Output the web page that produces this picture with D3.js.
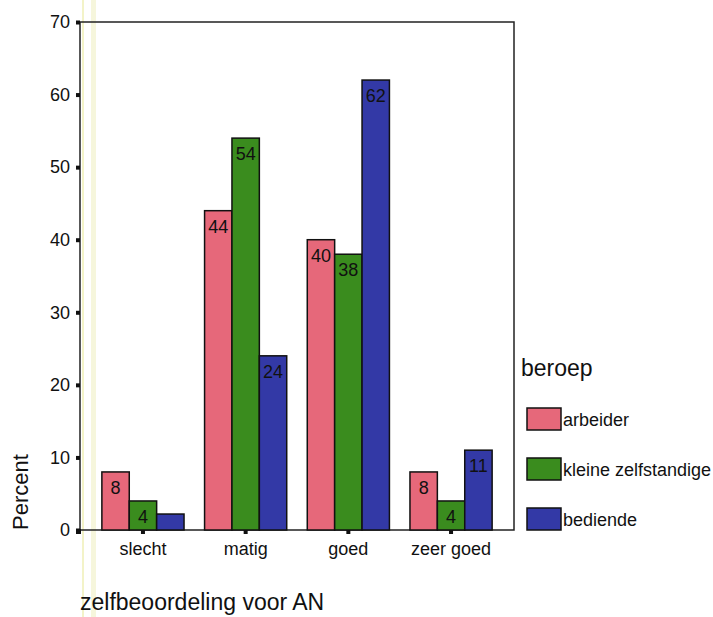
<!DOCTYPE html>
<html><head><meta charset="utf-8">
<script src="https://cdn.jsdelivr.net/npm/d3@7"></script>
<style>body{margin:0;background:#fff}svg{display:block}text{font-family:Arial,"Liberation Sans",sans-serif;fill:#111}</style>
</head><body><svg id="c" width="713" height="617"></svg>
<script>
const categories = ["slecht", "matig", "goed", "zeer goed"];
const seriesNames = ["arbeider", "kleine zelfstandige", "bediende"];
const arbeider = [8, 44, 40, 8];
const kleineZelfstandige = [4, 54, 38, 4];
const bediende = [2.2, 24, 62, 11];
const yTicks = [0, 10, 20, 30, 40, 50, 60, 70];
const colors = ["#e6687a", "#3a8c1e", "#3339a6"];
const seriesValues = [arbeider, kleineZelfstandige, bediende];

const svg = d3.select("#c");
const L = 80, R = 514, T = 22, B = 530;

// faint scan artifact lines
svg.append("rect").attr("x", 82).attr("y", 0).attr("width", 2).attr("height", 617).attr("fill", "#f3f3c8");
svg.append("rect").attr("x", 91).attr("y", 0).attr("width", 5).attr("height", 617).attr("fill", "#f6f6dc");

const x = d3.scaleBand().domain(categories).range([L, R]).paddingInner(0.2).paddingOuter(0.213);
const xs = d3.scaleBand().domain(seriesNames).range([0, x.bandwidth()]);
const y = d3.scaleLinear().domain([0, 70]).range([B, T]);

// frame
svg.append("rect").attr("x", L).attr("y", T).attr("width", R - L).attr("height", B - T)
  .attr("fill", "none").attr("stroke", "#222").attr("stroke-width", 1.5);

const data = [];
categories.forEach((c, i) => seriesNames.forEach((s, j) => data.push({c, s, j, v: seriesValues[j][i]})));

const g = svg.append("g");
g.selectAll("rect.bar").data(data).join("rect").attr("class", "bar")
  .attr("x", d => x(d.c) + xs(d.s)).attr("y", d => y(d.v))
  .attr("width", xs.bandwidth()).attr("height", d => y(0) - y(d.v))
  .attr("fill", d => colors[d.j]).attr("stroke", "#111").attr("stroke-width", 1.5);

g.selectAll("text.lbl").data(data.filter(d => d.v >= 3)).join("text").attr("class", "lbl")
  .attr("x", d => x(d.c) + xs(d.s) + xs.bandwidth() / 2).attr("y", d => y(d.v) + 22)
  .attr("text-anchor", "middle").attr("font-size", 18).text(d => Math.round(d.v));

// y axis
const ya = d3.axisLeft(y).tickValues(yTicks).tickSize(0).tickPadding(10);
const yg = svg.append("g").attr("transform", `translate(${L},0)`).call(ya);
yg.select(".domain").remove();
yg.selectAll("text").attr("font-size", 18).attr("fill", "#111");
yg.selectAll(".tick").append("rect").attr("x", -4).attr("y", -2).attr("width", 4).attr("height", 4).attr("fill", "#111");

// x axis
const xa = d3.axisBottom(x).tickSize(0).tickPadding(12);
const xg = svg.append("g").attr("transform", `translate(0,${B})`).call(xa);
xg.select(".domain").remove();
xg.selectAll("text").attr("font-size", 18).attr("fill", "#111");
xg.selectAll(".tick").append("rect").attr("x", -2).attr("y", 0).attr("width", 4).attr("height", 4).attr("fill", "#111");
svg.append("rect").attr("x", L - 4).attr("y", B - 1).attr("width", 5).attr("height", 5).attr("fill", "#111");

// axis titles
svg.append("text").attr("x", L).attr("y", 610).attr("font-size", 23).text("zelfbeoordeling voor AN");
svg.append("text").attr("transform", "translate(28,492) rotate(-90)").attr("text-anchor", "middle")
  .attr("font-size", 22).text("Percent");

// legend
svg.append("text").attr("x", 521).attr("y", 376).attr("font-size", 23).text("beroep");
const lg = svg.append("g").selectAll("g").data(seriesNames).join("g")
  .attr("transform", (d, i) => `translate(527,${408 + i * 50})`);
lg.append("rect").attr("width", 34).attr("height", 22).attr("fill", (d, i) => colors[i]).attr("stroke", "#111").attr("stroke-width", 1.5);
lg.append("text").attr("x", 36).attr("y", 18).attr("font-size", 18).text(d => d);
</script></body></html>
